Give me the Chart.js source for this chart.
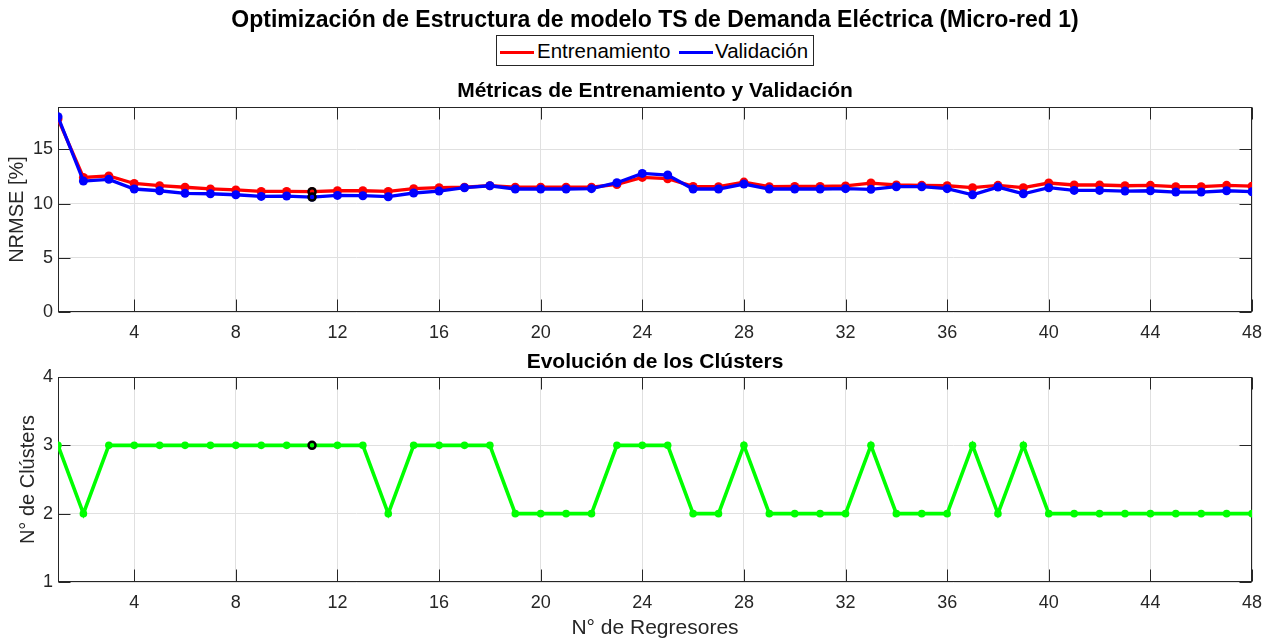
<!DOCTYPE html>
<html lang="es">
<head>
<meta charset="utf-8">
<title>Optimización de Estructura de modelo TS</title>
<script src="https://cdn.jsdelivr.net/npm/chart.js@4.4.1/dist/chart.umd.min.js"></script>
<style>
  html, body { margin: 0; padding: 0; background: #ffffff; }
  body { width: 1275px; height: 641px; position: relative; overflow: hidden;
         font-family: "Liberation Sans", Arial, Helvetica, sans-serif; }
  canvas { position: absolute; left: 0; }
  #cTop { top: 0; }
  #cBot { top: 350px; }
  .txt { position: absolute; white-space: nowrap; color: #000; }
  #mainTitle { left: 0; width: 1310px; top: 6px; text-align: center; font-weight: bold; font-size: 23px; }
  .subTitle { left: 58px; width: 1194px; text-align: center; font-weight: bold; font-size: 21px; }
  #legend { position: absolute; left: 496px; top: 35px; width: 316px; height: 29px;
            border: 1px solid #262626; background: #fff; font-size: 20.5px; color: #000; }
  .sw { position: absolute; top: 15px; height: 3px; width: 34px; }
  .lt { position: absolute; top: 3px; }
</style>
</head>
<body>
<canvas id="cTop" width="1275" height="350"></canvas>
<canvas id="cBot" width="1275" height="291"></canvas>

<div id="mainTitle" class="txt">Optimización de Estructura de modelo TS de Demanda Eléctrica (Micro-red 1)</div>
<div id="legend">
  <div class="sw" style="left:3px;background:#ff0000"></div>
  <div class="lt" style="left:40px">Entrenamiento</div>
  <div class="sw" style="left:182px;background:#0000ff"></div>
  <div class="lt" style="left:218px">Validación</div>
</div>
<div class="txt subTitle" style="top:78px">Métricas de Entrenamiento y Validación</div>
<div class="txt subTitle" style="top:349px">Evolución de los Clústers</div>

<script>
// Number of regressors evaluated
const regresores = [1, 2, 3, 4, 5, 6, 7, 8, 9, 10, 11, 12, 13, 14, 15, 16,
  17, 18, 19, 20, 21, 22, 23, 24, 25, 26, 27, 28, 29, 30, 31, 32,
  33, 34, 35, 36, 37, 38, 39, 40, 41, 42, 43, 44, 45, 46, 47, 48];

// NRMSE [%] on the training set
const entrenamiento = [17.8, 12.4, 12.55, 11.85, 11.65, 11.5, 11.35, 11.25, 11.12, 11.12, 11.09, 11.18,
  11.18, 11.12, 11.37, 11.46, 11.5, 11.65, 11.5, 11.5, 11.5, 11.5, 11.76, 12.41,
  12.29, 11.58, 11.55, 11.98, 11.55, 11.58, 11.58, 11.62, 11.89, 11.71, 11.68, 11.64,
  11.46, 11.68, 11.46, 11.89, 11.71, 11.71, 11.64, 11.68, 11.55, 11.55, 11.68, 11.6];

// NRMSE [%] on the validation set
const validacion = [18.0, 12.07, 12.23, 11.34, 11.18, 10.94, 10.9, 10.81, 10.66, 10.69, 10.6, 10.75,
  10.72, 10.63, 10.97, 11.15, 11.46, 11.64, 11.34, 11.34, 11.34, 11.37, 11.92, 12.78,
  12.63, 11.34, 11.34, 11.8, 11.34, 11.34, 11.34, 11.37, 11.31, 11.55, 11.55, 11.37,
  10.81, 11.52, 10.9, 11.46, 11.21, 11.21, 11.15, 11.18, 11.06, 11.06, 11.18, 11.09];

// Number of clusters of the TS model for each structure
const clusters = [3, 2, 3, 3, 3, 3, 3, 3, 3, 3, 3, 3, 3, 2, 3, 3,
  3, 3, 2, 2, 2, 2, 3, 3, 3, 2, 2, 3, 2, 2, 2, 2,
  3, 2, 2, 2, 3, 2, 3, 2, 2, 2, 2, 2, 2, 2, 2, 2];

// Selected (optimal) structure
const mejorRegresor = 11;

// Axis ticks and limits
const xTicks = [4, 8, 12, 16, 20, 24, 28, 32, 36, 40, 44, 48];
const xLimits = [1, 48];
const nrmseTicks = [0, 5, 10, 15];
const nrmseLimits = [0, 18.9];
const clusterTicks = [1, 2, 3, 4];
const clusterLimits = [1, 4];

const FONT = '"Liberation Sans", Arial, Helvetica, sans-serif';
const AXIS_COLOR = '#262626';
const GRID_COLOR = '#e0e0e0';
const TICK_LEN = 12;

const pts = (ys) => regresores.map((x, i) => ({ x: x, y: ys[i] }));
const best = (ys) => [{ x: mejorRegresor, y: ys[regresores.indexOf(mejorRegresor)] }];

// Axes box with inward tick marks on all four sides
const boxPlugin = {
  id: 'boxPlugin',
  beforeDatasetsDraw(chart) {
    const { ctx, chartArea: a, scales } = chart;
    const L = Math.round(a.left) + 0.5, R = Math.round(a.right) - 0.5;
    const T = Math.round(a.top) + 0.5, B = Math.round(a.bottom) - 0.5;
    ctx.save();
    ctx.strokeStyle = AXIS_COLOR;
    ctx.lineWidth = 1;
    ctx.beginPath();
    scales.x.ticks.forEach(t => {
      const px = Math.round(scales.x.getPixelForValue(t.value)) + 0.5;
      ctx.moveTo(px, B); ctx.lineTo(px, B - TICK_LEN);
      ctx.moveTo(px, T); ctx.lineTo(px, T + TICK_LEN);
    });
    scales.y.ticks.forEach(t => {
      const py = Math.round(scales.y.getPixelForValue(t.value)) + 0.5;
      ctx.moveTo(L, py); ctx.lineTo(L + TICK_LEN, py);
      ctx.moveTo(R, py); ctx.lineTo(R - TICK_LEN, py);
    });
    ctx.stroke();
    ctx.strokeRect(L, T, R - L, B - T);
    ctx.restore();
  }
};

function xScale(withTitle, height) {
  return {
    type: 'linear',
    min: xLimits[0], max: xLimits[1],
    afterBuildTicks: s => { s.ticks = xTicks.map(v => ({ value: v })); },
    afterFit: s => { s.height = height; },
    grid: { color: GRID_COLOR, drawTicks: false },
    border: { display: false },
    ticks: { color: AXIS_COLOR, padding: 10, maxRotation: 0, autoSkip: false,
             font: { family: FONT, size: 18 }, callback: v => String(v) },
    title: { display: withTitle, text: 'N° de Regresores', color: AXIS_COLOR,
             font: { family: FONT, size: 21 }, padding: 0 }
  };
}

function yScale(limits, tickVals, label, titlePad) {
  return {
    type: 'linear',
    min: limits[0], max: limits[1],
    afterBuildTicks: s => { s.ticks = tickVals.map(v => ({ value: v })); },
    afterFit: s => { s.width = 58; },
    grid: { color: GRID_COLOR, drawTicks: false },
    border: { display: false },
    ticks: { color: AXIS_COLOR, padding: 5, font: { family: FONT, size: 18 }, callback: v => String(v) },
    title: { display: true, text: label, color: AXIS_COLOR,
             font: { family: FONT, size: 20 }, padding: { top: titlePad, bottom: 0 } }
  };
}

const common = {
  responsive: false,
  animation: false,
  events: [],
  plugins: { legend: { display: false }, tooltip: { enabled: false }, title: { display: false } }
};

new Chart(document.getElementById('cTop'), {
  type: 'line',
  data: {
    datasets: [
      { label: 'Óptimo', data: best(entrenamiento).concat(best(validacion)), showLine: false, order: 0,
        pointRadius: 3.5, pointBorderWidth: 2.5, pointBorderColor: '#000000',
        pointBackgroundColor: ['#ff0000', '#0000ff'] },
      { label: 'Validación', data: pts(validacion), order: 1,
        borderColor: '#0000ff', backgroundColor: '#0000ff', borderWidth: 3.3,
        pointRadius: 4.5, pointBorderWidth: 0, pointBackgroundColor: '#0000ff', tension: 0 },
      { label: 'Entrenamiento', data: pts(entrenamiento), order: 2,
        borderColor: '#ff0000', backgroundColor: '#ff0000', borderWidth: 3.3,
        pointRadius: 4.5, pointBorderWidth: 0, pointBackgroundColor: '#ff0000', tension: 0 }
    ]
  },
  options: Object.assign({}, common, {
    layout: { padding: { top: 107, right: 23, left: 0, bottom: 0 } },
    scales: { x: xScale(false, 38), y: yScale(nrmseLimits, nrmseTicks, 'NRMSE [%]', 5) }
  }),
  plugins: [boxPlugin]
});

new Chart(document.getElementById('cBot'), {
  type: 'line',
  data: {
    datasets: [
      { label: 'Óptimo', data: best(clusters), showLine: false, order: 0,
        pointRadius: 3.5, pointBorderWidth: 2.5, pointBorderColor: '#000000',
        pointBackgroundColor: '#00ff00' },
      { label: 'Clústers', data: pts(clusters), order: 1,
        borderColor: '#00ff00', backgroundColor: '#00ff00', borderWidth: 3.6,
        pointRadius: 3.8, pointBorderWidth: 0, pointBackgroundColor: '#00ff00', tension: 0 }
    ]
  },
  options: Object.assign({}, common, {
    layout: { padding: { top: 27, right: 23, left: 0, bottom: 0 } },
    scales: { x: xScale(true, 59), y: yScale(clusterLimits, clusterTicks, 'N° de Clústers', 16) }
  }),
  plugins: [boxPlugin]
});
</script>
</body>
</html>
